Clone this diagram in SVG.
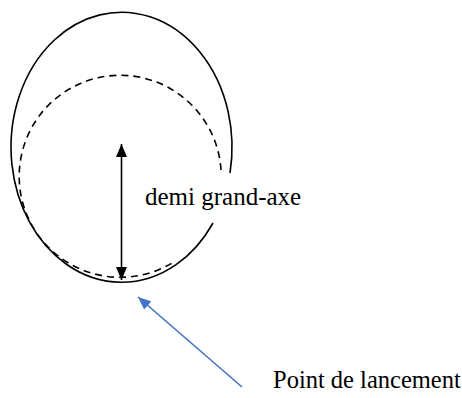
<svg xmlns="http://www.w3.org/2000/svg" width="462" height="398" viewBox="0 0 462 398">
  <style>
    .orbit { fill: none; stroke: #000; stroke-width: 1.6; }
    .dashed { stroke-dasharray: 7 5; }
    .label { font-family: "Liberation Serif", "Times New Roman", serif; font-size: 24.5px; fill: #000; }
  </style>
  <defs>
    <marker id="headBlack" markerUnits="userSpaceOnUse" markerWidth="13" markerHeight="11" refX="13" refY="5.5" orient="auto-start-reverse">
      <path d="M0,0 L13,5.5 L0,11 z" fill="#000"/>
    </marker>
    <marker id="headBlue" markerUnits="userSpaceOnUse" markerWidth="13" markerHeight="11" refX="13" refY="5.5" orient="auto">
      <path d="M0,0 L13,5.5 L0,11 z" fill="#4472C4"/>
    </marker>
  </defs>
  <rect width="462" height="398" fill="#fff"/>
  <g id="orbit-solid">
    <path class="orbit" d="M 230 173 A 110.5 135 0 1 0 213 223"/>
  </g>
  <g id="orbit-dashed">
    <path class="orbit dashed" d="M 221 170 A 101 101 0 1 0 172 263"/>
  </g>
  <g id="connectors">
    <line x1="121.5" y1="144" x2="121.5" y2="280" stroke="#000" stroke-width="1.6" marker-start="url(#headBlack)" marker-end="url(#headBlack)"/>
    <line x1="242" y1="387" x2="138" y2="297" stroke="#4472C4" stroke-width="1.6" marker-end="url(#headBlue)"/>
  </g>
  <g id="labels">
    <text class="label" x="145" y="205" style="font-size:25px">demi grand-axe</text>
    <text class="label" x="273" y="388">Point de lancement</text>
  </g>
</svg>
